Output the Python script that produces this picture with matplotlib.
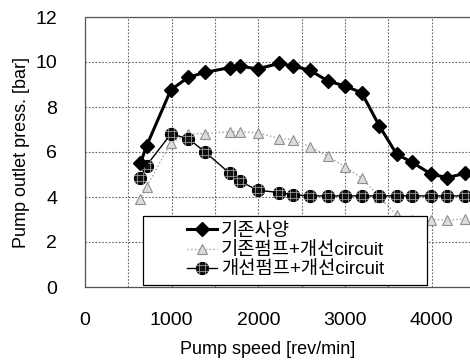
import matplotlib.pyplot as plt
from matplotlib.path import Path
from matplotlib.legend_handler import HandlerTuple, HandlerLine2D

# Pump speed [rev/min] for every measured point
speed = [640, 710, 990, 1190, 1385, 1670, 1790, 1990, 2240, 2400,
         2590, 2800, 3000, 3190, 3395, 3595, 3775, 3990, 4180, 4380]

# Outlet pressure [bar]
p_base = [5.5, 6.27, 8.76, 9.32, 9.54, 9.75, 9.82, 9.69, 9.94, 9.82,
          9.64, 9.16, 8.93, 8.64, 7.16, 5.90, 5.54, 5.02, 4.86, 5.05]
p_oldpump = [3.9, 4.45, 6.4, 6.8, 6.82, 6.9, 6.9, 6.85, 6.6, 6.55,
             6.24, 5.83, 5.33, 4.85, 4.0, 3.2, 3.0, 3.0, 2.98, 3.02]
p_newpump = [4.85, 5.4, 6.8, 6.6, 6.0, 5.05, 4.7, 4.3, 4.2, 4.1,
             4.05, 4.05, 4.05, 4.05, 4.05, 4.05, 4.05, 4.05, 4.05, 4.05]

labels = ['기존사양', '기존펌프+개선circuit', '개선펌프+개선circuit']
xtick_labels = ['0', '1000', '2000', '3000', '4000']

plt.rcParams['font.family'] = ['Liberation Sans', 'Noto Sans CJK KR', 'DejaVu Sans']

# '#' shaped marker to mimic the cross hatch on the circles
hatch = Path([(-0.22, -0.5), (-0.22, 0.5), (0.22, -0.5), (0.22, 0.5),
              (-0.5, -0.22), (0.5, -0.22), (-0.5, 0.22), (0.5, 0.22)],
             [Path.MOVETO, Path.LINETO] * 4)

fig = plt.figure(figsize=(4.70, 3.62), dpi=100)
ax = fig.add_axes([85 / 470, 75 / 362, 433.5 / 470, 270 / 362])

l1, = ax.plot(speed, p_base, color='black', lw=2.2, marker='D', ms=7.5,
              zorder=5)
l2, = ax.plot(speed, p_oldpump, color='#a0a0a0', lw=1.0, ls=':',
              marker='^', ms=7.5, mfc='#dcdcdc', mec='#909090', mew=0.8,
              zorder=3)
l3, = ax.plot(speed, p_newpump, color='black', lw=1.0, marker='o', ms=8.5,
              mfc='#111111', mec='black', zorder=4)
l3b, = ax.plot(speed, p_newpump, ls='none', marker=hatch, ms=8.5,
               mfc='none', mec='#9a9a9a', mew=0.6, zorder=4)

ax.set_xlim(0, 5000)
ax.set_ylim(0, 12)
ax.set_xticks(range(0, 5001, 500))
ax.set_xticklabels([xtick_labels[i // 2] if i % 2 == 0 and i // 2 < len(xtick_labels) else ''
                    for i in range(11)])
ax.set_yticks(range(0, 13, 2))
ax.tick_params(axis='both', length=0, labelsize=14)
ax.tick_params(axis='y', pad=20)
ax.tick_params(axis='x', pad=18)
ax.grid(True, color='#666666', ls=(0, (1.5, 1.5)), lw=0.8)
for sp in ax.spines.values():
    sp.set_color('#555555')
    sp.set_linestyle((0, (2, 1)))
    sp.set_linewidth(0.9)

ax.set_xlabel('Pump speed [rev/min]', fontsize=13, labelpad=9)
ax.xaxis.label.set_x((268 - 85) / 433.5)
ax.set_ylabel('Pump outlet press. [bar]', fontsize=13, labelpad=4)

# handles indented inside the legend box, as in the original
hl1 = HandlerLine2D(xpad=2.0)
hl2 = HandlerLine2D(xpad=2.0)
leg = ax.legend([l1, l2, (l3, l3b)], labels,
                handler_map={l1: hl1, l2: hl2,
                             tuple: HandlerTuple(ndivide=1, xpad=2.0)},
                loc='lower left', mode='expand',
                bbox_to_anchor=(58 / 433.5, 2 / 270, 284 / 433.5, 73 / 270),
                fontsize=13.5, frameon=True, fancybox=False, handlelength=3.6,
                handletextpad=0.2, labelspacing=0.12, borderpad=0.35,
                borderaxespad=0)
leg.get_frame().set_edgecolor('black')
leg.get_frame().set_linewidth(0.9)
leg.get_frame().set_alpha(1)
leg.set_zorder(10)

fig.savefig('out.png', dpi=100)
